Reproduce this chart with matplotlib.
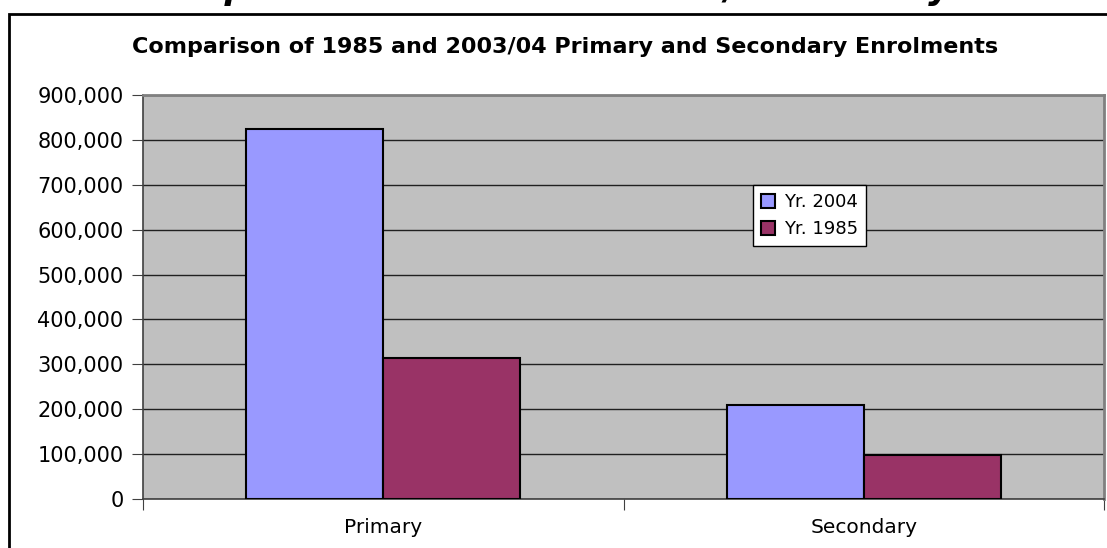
import matplotlib
matplotlib.use("Agg")
from matplotlib import pyplot as plt
from matplotlib.patches import Rectangle
from matplotlib.ticker import FuncFormatter, MultipleLocator

categories = ["Primary", "Secondary"]
yr_2004 = [825000, 209000]
yr_1985 = [314000, 98000]
series_names = ["Yr. 2004", "Yr. 1985"]
title = "Comparison of 1985 and 2003/04 Primary and Secondary Enrolments"

W, H = 1107, 548
plt.rcParams['font.family'] = ['DejaVu Sans']

fig = plt.figure(figsize=(W / 100, H / 100), dpi=100)
fig.patch.set_facecolor("white")

# cut-off heading line from the page above the chart (only descenders show)
fig.text(139 / W, 1 + 1 / H, title, fontsize=25, fontweight="bold",
         fontstyle="italic", ha="left", va="baseline")

# outer chart border
fig.patches.append(Rectangle((9 / W, -0.2), 1.2, 1.2 - 14 / H,
                             transform=fig.transFigure, fill=False,
                             edgecolor="black", lw=2))

fig.text(565 / W, 1 - 47 / H, title, fontsize=16, fontweight="bold",
         ha="center", va="center")

ax = fig.add_axes([143 / W, (H - 499) / H, (1104 - 143) / W, (499 - 95) / H])
ax.set_facecolor("#C0C0C0")

x = list(range(len(categories)))
w = 0.285
ax.bar([i - w / 2 for i in x], yr_2004, w, color="#9999FF", edgecolor="black",
       lw=1.5, label=series_names[0], zorder=3)
ax.bar([i + w / 2 for i in x], yr_1985, w, color="#993366", edgecolor="black",
       lw=1.5, label=series_names[1], zorder=3)

ax.set_xlim(-0.5, 1.5)
ax.set_ylim(0, 900000)
ax.yaxis.set_major_locator(MultipleLocator(100000))
ax.yaxis.set_major_formatter(FuncFormatter(lambda v, p: f"{int(v):,}"))
ax.grid(axis="y", color="#202020", lw=1, zorder=1)

ax.set_xticks([-0.5, 0.5, 1.5])
ax.set_xticklabels([])
ax.set_xticks(x, minor=True)
ax.set_xticklabels(categories, minor=True)
ax.tick_params(axis="x", which="minor", length=0, pad=14, labelsize=14.5)
ax.tick_params(axis="x", which="major", length=8, color="#404040")
ax.tick_params(axis="y", length=8, color="#404040", pad=6, labelsize=15)

for side in ["top", "right"]:
    ax.spines[side].set_color("#808080")
    ax.spines[side].set_linewidth(2)
for side in ["left", "bottom"]:
    ax.spines[side].set_color("#404040")
    ax.spines[side].set_linewidth(1.2)

leg = ax.legend(loc="upper left", bbox_to_anchor=(0.635, 0.777), borderaxespad=0,
                fancybox=False, edgecolor="black", framealpha=1, fontsize=13,
                handlelength=0.75, handleheight=0.75, handletextpad=0.5,
                borderpad=0.45, labelspacing=0.5)
leg.get_frame().set_linewidth(1)

fig.savefig("out.png", dpi=100)
